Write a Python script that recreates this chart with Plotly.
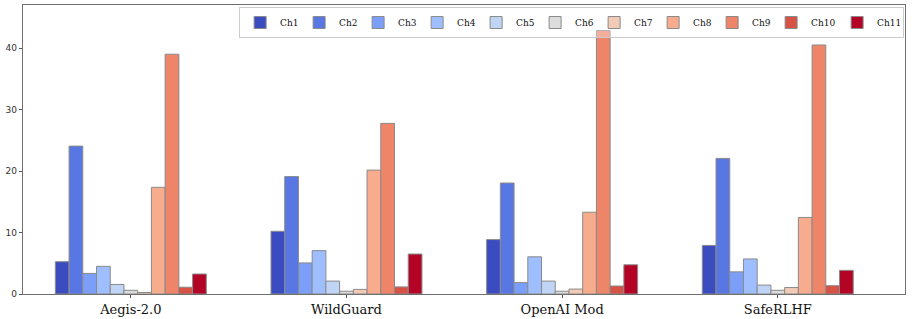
import plotly.graph_objects as go

categories = ["Aegis-2.0", "WildGuard", "OpenAI Mod", "SafeRLHF"]
channels = ["Ch1", "Ch2", "Ch3", "Ch4", "Ch5", "Ch6", "Ch7", "Ch8", "Ch9", "Ch10", "Ch11"]

ch1 = [5.25, 10.2, 8.85, 7.9]
ch2 = [24.05, 19.1, 18.05, 22.05]
ch3 = [3.35, 5.05, 1.85, 3.6]
ch4 = [4.5, 7.05, 6.05, 5.7]
ch5 = [1.55, 2.1, 2.1, 1.45]
ch6 = [0.6, 0.45, 0.45, 0.6]
ch7 = [0.25, 0.75, 0.8, 1.05]
ch8 = [17.35, 20.15, 13.3, 12.45]
ch9 = [39.0, 27.75, 42.85, 40.5]
ch10 = [1.1, 1.15, 1.3, 1.35]
ch11 = [3.25, 6.5, 4.75, 3.85]

series = [ch1, ch2, ch3, ch4, ch5, ch6, ch7, ch8, ch9, ch10, ch11]
colors = ["#3b4cc0", "#5977e3", "#7b9ff9", "#9ebeff", "#c0d4f5", "#dddcdc",
          "#f2cbb7", "#f7ac8e", "#ee8468", "#d65244", "#b40426"]

fig = go.Figure()
for name, vals, col in zip(channels, series, colors):
    fig.add_trace(go.Bar(
        x=categories, y=vals, name=name,
        marker=dict(color=col, line=dict(color="#8a8a8a", width=1)),
        legendwidth=(21 if len(name) > 3 else 14),
    ))

fig.update_layout(
    width=912, height=319,
    margin=dict(l=23, r=7, t=5, b=25),
    paper_bgcolor="white", plot_bgcolor="white",
    barmode="group", bargap=0.3, bargroupgap=0,
    legend=dict(orientation="h", x=0.999, xanchor="right", y=0.993, yanchor="top",
                font=dict(family="DejaVu Serif", size=9, color="#111"),
                bordercolor="#cccccc", borderwidth=1, bgcolor="rgba(255,255,255,0.35)",
                itemwidth=30, tracegroupgap=0),
    font=dict(family="DejaVu Sans"),
)
fig.update_xaxes(
    range=[-0.5, 3.59], showline=True, linecolor="#707070", linewidth=1.3, mirror=True,
    ticks="outside", ticklen=3, tickcolor="#555",
    tickfont=dict(family="DejaVu Serif", size=13, color="#111"),
    showgrid=False, automargin=False,
)
fig.update_yaxes(
    range=[0, 47], showline=True, linecolor="#707070", linewidth=1.3, mirror=True,
    ticks="outside", ticklen=3, tickcolor="#555", tickvals=[0, 10, 20, 30, 40],
    tickfont=dict(family="DejaVu Sans", size=9, color="#333"),
    showgrid=False, zeroline=False, automargin=False,
)

fig.write_html("out.html", config={"displayModeBar": False},
               post_script="document.body.style.margin='0';")
